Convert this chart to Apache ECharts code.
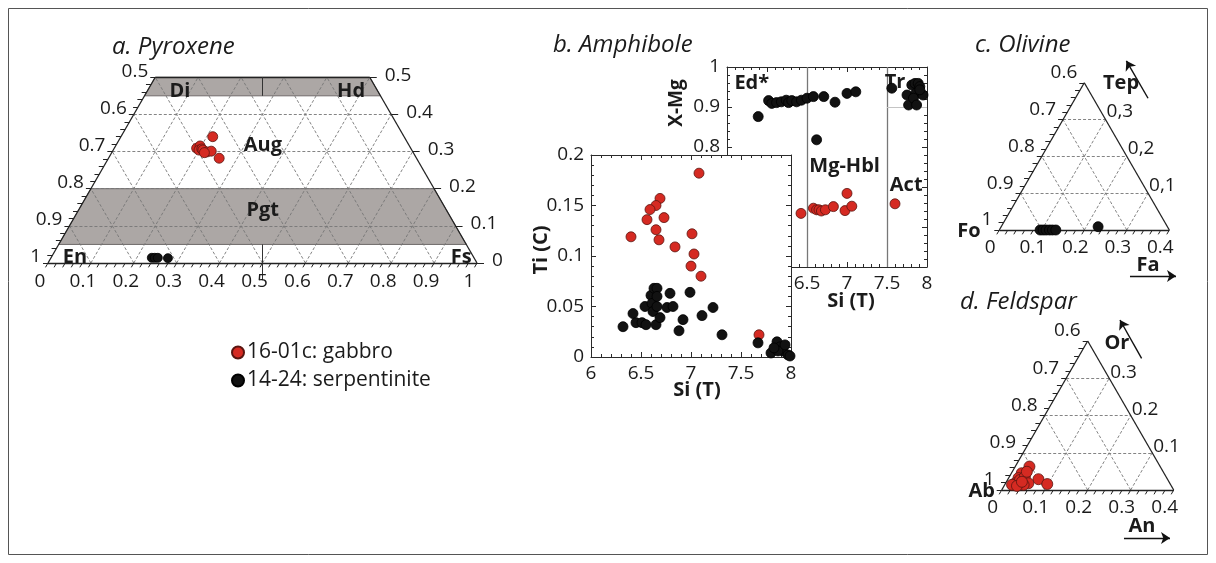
<!DOCTYPE html>
<html>
<head>
<meta charset="utf-8">
<script src="https://cdn.jsdelivr.net/npm/echarts@6/dist/echarts.min.js"></script>
<style>
  html, body { margin: 0; padding: 0; background: #fff; }
  #chart { width: 1216px; height: 563px; }
</style>
</head>
<body>
<div id="chart"></div>
<script>
// ---------------- data ----------------
// a. Pyroxene — ternary fractions [Fs, Wo]  (En = 1 - Fs - Wo)
const pyxGabbro = [[0.214,0.340],[0.192,0.309],[0.197,0.315],[0.200,0.304],[0.205,0.307],[0.209,0.304],
                   [0.221,0.299],[0.230,0.301],[0.216,0.297],[0.258,0.282]];
const pyxSerp = [[0.235,0.014],[0.242,0.014],[0.249,0.014],[0.273,0.013]];
const pyxFsTicks = [0,0.1,0.2,0.3,0.4,0.5,0.6,0.7,0.8,0.9,1];
const pyxEnTicks = [1,0.9,0.8,0.7,0.6,0.5];
const pyxWoTicks = [0,0.1,0.2,0.3,0.4,0.5];

// b. Amphibole — [Si (T), X-Mg] and [Si (T), Ti (C)]
const amphXMgGabbro = [[6.425,0.634],[6.58,0.647],[6.62,0.643],[6.65,0.643],[6.68,0.640],[6.73,0.643],
                       [6.83,0.651],[6.975,0.641],[7.0,0.684],[7.06,0.652],[7.6,0.658]];
const amphXMgSerp = [[5.89,0.876],[6.02,0.916],[6.06,0.909],[6.12,0.911],[6.18,0.913],[6.24,0.917],
                     [6.27,0.911],[6.31,0.916],[6.37,0.913],[6.43,0.917],[6.50,0.922],[6.58,0.926],
                     [6.71,0.926],[6.85,0.912],[7.00,0.934],[7.11,0.938],[6.62,0.818],[7.56,0.947],
                     [7.75,0.930],[7.77,0.905],[7.81,0.955],[7.85,0.959],[7.89,0.959],[7.91,0.951],
                     [7.86,0.934],[7.83,0.922],[7.87,0.905],[7.95,0.930],[7.91,0.943]];
const amphTiGabbro = [[7.08,0.182],[6.69,0.157],[6.65,0.150],[6.59,0.146],[6.56,0.136],[6.73,0.138],
                      [6.65,0.126],[6.40,0.119],[6.68,0.116],[6.84,0.109],[7.01,0.122],[7.03,0.102],
                      [7.00,0.090],[7.10,0.080],[7.68,0.022]];
const amphTiSerp = [[6.32,0.030],[6.42,0.043],[6.45,0.034],[6.51,0.034],[6.55,0.032],[6.54,0.050],
                    [6.60,0.061],[6.63,0.068],[6.66,0.068],[6.61,0.053],[6.62,0.045],[6.66,0.050],
                    [6.65,0.032],[6.66,0.060],[6.69,0.039],[6.76,0.049],[6.79,0.063],[6.82,0.050],
                    [6.92,0.037],[6.88,0.026],[6.99,0.064],[7.11,0.041],[7.22,0.049],[7.31,0.022],
                    [7.67,0.014],[7.80,0.004],[7.86,0.015],[7.89,0.010],[7.92,0.006],[7.97,0.002],
                    [7.87,0.006],[7.94,0.012],[7.83,0.009],[7.99,0.001]];
const amphSiBounds = [6.5, 7.5];   // Ed*/Mg-Hbl and Mg-Hbl/Act limits
const amphTrActXMg = 0.9;          // Tr / Act limit

// c. Olivine — [Fa, Tep]  (Fo = 1 - Fa - Tep)
const olSerp = [[0.096,0],[0.103,0],[0.110,0],[0.118,0],[0.125,0],[0.133,0],[0.228,0.009]];
const olFaTicks = [0,0.1,0.2,0.3,0.4];
const olFoTicks = [1,0.9,0.8,0.7,0.6];
const olTepTicks = [0.1,0.2,0.3];
const olTepLabels = ['0,1','0,2','0,3'];

// d. Feldspar — [An, Or]  (Ab = 1 - An - Or)
const fspGabbro = [[0.033,0.063],[0.024,0.045],[0.023,0.032],[0.022,0.018],[0.029,0.027],[0.036,0.036],
                   [0.071,0.029],[0.098,0.016],[0.053,0.018],[0.017,0.014],[0.044,0.014],[0.030,0.011],
                   [0.034,0.049],[0.036,0.022]];
const fspAnTicks = [0,0.1,0.2,0.3,0.4];
const fspAbTicks = [1,0.9,0.8,0.7,0.6];
const fspOrTicks = [0.1,0.2,0.3];

const GABBRO = '16-01c: gabbro';
const SERP = '14-24: serpentinite';

// ---------------- styles ----------------
const FONT = '"Open Sans", "Noto Sans", sans-serif';
const INK = '#1b1b1b';
const RED = '#d52a22', RED_EDGE = '#5a1510';
const BLACK = '#121212';
const BAND = '#aca7a5';
const GRIDLINE = { color: '#767676', width: 0.9, type: [3, 2], opacity: 1 };
const EDGE = { color: '#222', width: 1.3, opacity: 1 };
const TICK = { color: '#222', width: 1, opacity: 1 };
const fTick = '19px ' + FONT;
const fBold = 'bold 20px ' + FONT;

// ternary [b, c] -> cartesian (b: right corner, c: apex)
const S = Math.sqrt(3) / 2;
const tern = (b, c) => [b + c / 2, c * S];
const range = (a, b, step) => { const r = []; for (let v = a; v <= b + 1e-9; v += step) r.push(+v.toFixed(4)); return r; };

function segSeries(ax, segs, lineStyle, z, extra) {
  return Object.assign({
    type: 'lines', coordinateSystem: 'cartesian2d', xAxisIndex: ax, yAxisIndex: ax,
    polyline: false, silent: true, clip: false, z: z, symbol: 'none', animation: false,
    lineStyle: lineStyle, data: segs.map(s => ({ coords: s }))
  }, extra || {});
}
function polySeries(ax, polys, style, z) {
  return {
    type: 'custom', coordinateSystem: 'cartesian2d', xAxisIndex: ax, yAxisIndex: ax,
    silent: true, z: z, animation: false, data: polys.map(p => p[0]),
    renderItem: (params, api) => ({
      type: 'polygon',
      shape: { points: polys[params.dataIndex].map(p => api.coord(p)) },
      style: Object.assign({}, style)
    })
  };
}
function textSeries(ax, items, z) {
  return {
    type: 'custom', coordinateSystem: 'cartesian2d', xAxisIndex: ax, yAxisIndex: ax,
    silent: true, z: z || 20, animation: false, data: items.map(it => it.at),
    renderItem: (params, api) => {
      const it = items[params.dataIndex];
      const c = api.coord(it.at);
      const al = it.align || 'center';
      return {
        type: 'text', x: c[0] + (it.dx || 0), y: c[1] + (it.dy || 0),
        style: { text: it.text, font: it.font || fTick, fill: INK,
                 textAlign: al, textVerticalAlign: 'middle', align: al, verticalAlign: 'middle' }
      };
    }
  };
}
function scatter(ax, name, pts, color, size, z) {
  return {
    type: 'scatter', name: name, xAxisIndex: ax, yAxisIndex: ax, clip: false, z: z || 10,
    symbol: 'circle', symbolSize: size, animation: false,
    itemStyle: { color: color, borderColor: color === RED ? RED_EDGE : '#000', borderWidth: 0.8, opacity: 1 },
    data: pts
  };
}

// ---------- ternary panel (triangle or pyroxene trapezoid) ----------
function ternaryPanel(ax, k, opt) {
  const m = opt.max;          // b + c limit of the drawn field
  const cTop = opt.cTop;      // apex-component limit
  const out = [];
  const L = 5 / k;            // tick length in data units
  const outline = opt.trap
    ? [[tern(0,0), tern(1,0)], [tern(1,0), tern(1-cTop,cTop)], [tern(1-cTop,cTop), tern(0,cTop)], [tern(0,cTop), tern(0,0)]]
    : [[tern(0,0), tern(m,0)], [tern(m,0), tern(0,m)], [tern(0,m), tern(0,0)]];
  // dashed grid: constant apex, constant right-corner, constant left-corner lines
  const g = [];
  range(0.1, cTop - 0.1, 0.1).forEach(c => g.push([tern(0, c), tern(m - c, c)]));
  range(0.1, m - 0.1, 0.1).forEach(b => { const ct = Math.min(cTop, m - b); g.push([tern(b, 0), tern(b, ct)]); });
  range(0.1, m - 0.1, 0.1).forEach(s => { const ct = Math.min(cTop, s); g.push([tern(s, 0), tern(s - ct, ct)]); });
  out.push(segSeries(ax, g, GRIDLINE, 3));
  // ticks
  const t = [];
  range(0, m, 0.02).forEach(b => { const p = tern(b, 0); t.push([p, [p[0] - 0.5 * L, p[1] - S * L]]); });
  range(0, cTop, 0.02).forEach(c => { const p = tern(0, c); t.push([p, [p[0] - L, p[1]]]); });
  if (opt.rightTicks) opt.rightTicks.forEach(c => { const p = tern(m - c, c); t.push([p, [p[0] + 7 / k, p[1]]]); });
  out.push(segSeries(ax, t, TICK, 4));
  out.push(segSeries(ax, outline, EDGE, 5));
  return out;
}

// ---------- a. Pyroxene ----------
const pyxBands = [
  [tern(0,0.45), tern(0.55,0.45), tern(0.5,0.5), tern(0,0.5)],
  [tern(0,0.05), tern(0.95,0.05), tern(0.8,0.2), tern(0,0.2)]
];
const pyxText = [].concat(
  pyxFsTicks.map(v => ({ at: tern(v, 0), text: String(v), dx: -8, dy: 19 })),
  pyxEnTicks.map(v => ({ at: tern(0, +(1 - v).toFixed(2)), text: String(v), dx: -7, dy: -6, align: 'right' })),
  pyxWoTicks.map(v => ({ at: tern(+(1 - v).toFixed(2), v), text: String(v), dx: 15, dy: -2, align: 'left' })),
  [
    { at: tern(0.077, 0.461), text: 'Di', font: fBold },
    { at: tern(0.476, 0.461), text: 'Hd', font: fBold },
    { at: tern(0.342, 0.318), text: 'Aug', font: fBold },
    { at: tern(0.429, 0.143), text: 'Pgt', font: fBold },
    { at: tern(0.055, 0.016), text: 'En', font: fBold },
    { at: tern(0.955, 0.016), text: 'Fs', font: fBold }
  ]
);
const pyxSeries = [
  polySeries(0, pyxBands, { fill: BAND, stroke: '#6f6a69', lineWidth: 1 }, 1)
].concat(
  ternaryPanel(0, 429, { max: 1, cTop: 0.5, trap: true, rightTicks: pyxWoTicks }),
  [
    segSeries(0, [[tern(0.5,0), tern(0.475,0.05)], [tern(0.275,0.45), tern(0.25,0.5)], [tern(0.5,0), [0.5,-0.04]]],
              { color: '#333', width: 1, opacity: 1 }, 5),
    textSeries(0, pyxText),
    scatter(0, GABBRO, pyxGabbro.map(p => tern(p[0], p[1])), RED, 10, 12),
    scatter(0, SERP, pyxSerp.map(p => tern(p[0], p[1])), BLACK, 9, 12)
  ]
);

// ---------- c. Olivine ----------
const olText = [].concat(
  olFaTicks.map(v => ({ at: tern(v, 0), text: String(v), dx: -9, dy: 18 })),
  olFoTicks.map(v => ({ at: tern(0, +(1 - v).toFixed(2)), text: String(v), dx: -7, dy: -10, align: 'right' })),
  olTepTicks.map((v, i) => ({ at: tern(+(0.4 - v).toFixed(2), v), text: olTepLabels[i], dx: 1, dy: -8, align: 'left' })),
  [
    { at: [-0.0713, -0.004], text: 'Fo', font: fBold, align: 'center' },
    { at: [0.2864, 0.3451], text: 'Tep', font: fBold },
    { at: [0.350, -0.0824], text: 'Fa', font: fBold }
  ]
);
const arrowStyle = { color: '#111', width: 1.4, opacity: 1 };
const arrowExtra = { symbol: ['none', 'arrow'], symbolSize: [7, 9] };
const olSeries = ternaryPanel(5, 425, { max: 0.4, cTop: 0.4 }).concat([
  textSeries(5, olText),
  segSeries(5, [[[0.350, 0.310], [0.299, 0.398]], [[0.3075, -0.1082], [0.4158, -0.1082]]], arrowStyle, 6, arrowExtra),
  scatter(5, SERP, olSerp.map(p => tern(p[0], p[1])), BLACK, 10, 12)
]);

// ---------- d. Feldspar ----------
const fspText = [].concat(
  fspAnTicks.map(v => ({ at: tern(v, 0), text: String(v), dx: -9, dy: 18 })),
  fspAbTicks.map(v => ({ at: tern(0, +(1 - v).toFixed(2)), text: String(v), dx: -7, dy: -10, align: 'right' })),
  fspOrTicks.map(v => ({ at: tern(+(0.4 - v).toFixed(2), v), text: String(v), dx: 1, dy: -6, align: 'left' })),
  [
    { at: [-0.0465, -0.004], text: 'Ab', font: fBold },
    { at: [0.268, 0.341], text: 'Or', font: fBold },
    { at: [0.326, -0.0837], text: 'An', font: fBold }
  ]
);
const fspSeries = ternaryPanel(6, 430, { max: 0.4, cTop: 0.4 }).concat([
  textSeries(6, fspText),
  segSeries(6, [[[0.3253, 0.3063], [0.2751, 0.3953]], [[0.2844, -0.1116], [0.3914, -0.1116]]], arrowStyle, 6, arrowExtra),
  scatter(6, GABBRO, fspGabbro.map(p => tern(p[0], p[1])), RED, 11, 12)
]);

// ---------- b. Amphibole ----------
const amphUpperText = [
  { at: [5.81, 0.960], text: 'Ed*', font: fBold },
  { at: [6.97, 0.751], text: 'Mg-Hbl', font: fBold },
  { at: [7.74, 0.705], text: 'Act', font: fBold },
  { at: [7.60, 0.963], text: 'Tr', font: fBold }
];
const amphSeries = [
  segSeries(1, amphSiBounds.map(s => [[s, 0.5], [s, 1]]), { color: '#777', width: 1.3, opacity: 1 }, 3),
  segSeries(1, [[[amphSiBounds[1], amphTrActXMg], [8, amphTrActXMg]]], { color: '#c4c4c4', width: 1, opacity: 1 }, 3),
  textSeries(1, amphUpperText, 4),
  scatter(1, GABBRO, amphXMgGabbro, RED, 10, 8),
  scatter(1, SERP, amphXMgSerp, BLACK, 10, 8),
  scatter(3, GABBRO, amphTiGabbro, RED, 10, 30),
  scatter(3, SERP, amphTiSerp, BLACK, 10, 30)
];

// ---------- axes ----------
const hidden = (min, max, gi) => ({ type: 'value', gridIndex: gi, min: min, max: max, show: false });
function valAxis(gi, pos, min, max, interval, labels, z) {
  return {
    type: 'value', gridIndex: gi, position: pos, min: min, max: max, interval: interval, z: z,
    axisLine: { show: true, onZero: false, lineStyle: { color: '#2a2a2a', width: 1 } },
    axisTick: { show: true, inside: true, length: 5, lineStyle: { color: '#2a2a2a' } },
    minorTick: { show: true, splitNumber: 5, length: 3, lineStyle: { color: '#2a2a2a' } },
    axisLabel: { show: labels, color: INK, fontSize: 19, fontFamily: FONT, margin: 7, hideOverlap: false },
    splitLine: { show: false }, minorSplitLine: { show: false }
  };
}

const titleFont = 'italic 24px ' + FONT;
const option = {
  animation: false,
  backgroundColor: '#fff',
  grid: [
    { left: 48, top: 48.5, width: 429, height: 214.5 },                    // a. pyroxene
    { left: 727, top: 67, width: 200, height: 200, z: 0 },                 // b. amphibole X-Mg
    { left: 591, top: 155, width: 200, height: 202, z: 10, show: true,     // b. amphibole Ti
      backgroundColor: '#fff', borderWidth: 0 },
    { left: 999.3, top: 60, width: 170, height: 170 },                     // c. olivine
    { left: 1001.7, top: 318, width: 172, height: 172 }                    // d. feldspar
  ],
  xAxis: [
    hidden(0, 1, 0),
    valAxis(1, 'bottom', 5.5, 8, 0.5, true, 0),
    valAxis(1, 'top', 5.5, 8, 0.5, false, 0),
    valAxis(2, 'bottom', 6, 8, 0.5, true, 11),
    valAxis(2, 'top', 6, 8, 0.5, false, 11),
    hidden(0, 0.4, 3),
    hidden(0, 0.4, 4)
  ],
  yAxis: [
    hidden(0, 0.5, 0),
    valAxis(1, 'left', 0.5, 1, 0.1, true, 0),
    valAxis(1, 'right', 0.5, 1, 0.1, false, 0),
    valAxis(2, 'left', 0, 0.2, 0.05, true, 11),
    valAxis(2, 'right', 0, 0.2, 0.05, false, 11),
    hidden(0, 0.4, 3),
    hidden(0, 0.4, 4)
  ],
  legend: {
    data: [GABBRO, SERP], orient: 'vertical', left: 226, top: 337,
    itemWidth: 12, itemHeight: 12, itemGap: 7, icon: 'circle', selectedMode: false,
    textStyle: { fontSize: 21, fontFamily: FONT, color: INK, padding: [0, 0, 0, -2] }
  },
  graphic: [
    { type: 'rect', shape: { x: 8.5, y: 8.5, width: 1199, height: 546 }, style: { fill: 'none', stroke: '#555', lineWidth: 1 }, silent: true },
    { type: 'text', x: 112, y: 47, style: { text: 'a. Pyroxene', font: titleFont, fill: INK, textVerticalAlign: 'middle' } },
    { type: 'text', x: 553, y: 45, style: { text: 'b. Amphibole', font: titleFont, fill: INK, textVerticalAlign: 'middle' } },
    { type: 'text', x: 975, y: 45, style: { text: 'c. Olivine', font: titleFont, fill: INK, textVerticalAlign: 'middle' } },
    { type: 'text', x: 960, y: 302, style: { text: 'd. Feldspar', font: titleFont, fill: INK, textVerticalAlign: 'middle' } },
    { type: 'text', x: 677, y: 103, rotation: Math.PI / 2, z: 5,
      style: { text: 'X-Mg', font: 'bold 19px ' + FONT, fill: INK, textAlign: 'center', textVerticalAlign: 'middle' } },
    { type: 'text', x: 541, y: 250, rotation: Math.PI / 2, z: 50,
      style: { text: 'Ti (C)', font: 'bold 20px ' + FONT, fill: INK, textAlign: 'center', textVerticalAlign: 'middle' } },
    { type: 'text', x: 697, y: 390, z: 50,
      style: { text: 'Si (T)', font: 'bold 20px ' + FONT, fill: INK, textAlign: 'center', textVerticalAlign: 'middle' } },
    { type: 'text', x: 851, y: 301, z: 50,
      style: { text: 'Si (T)', font: 'bold 20px ' + FONT, fill: INK, textAlign: 'center', textVerticalAlign: 'middle' } }
  ],
  series: [].concat(pyxSeries, amphSeries, olSeries, fspSeries)
};

const chart = echarts.init(document.getElementById('chart'), null, { renderer: 'canvas' });
chart.setOption(option);
</script>
</body>
</html>
